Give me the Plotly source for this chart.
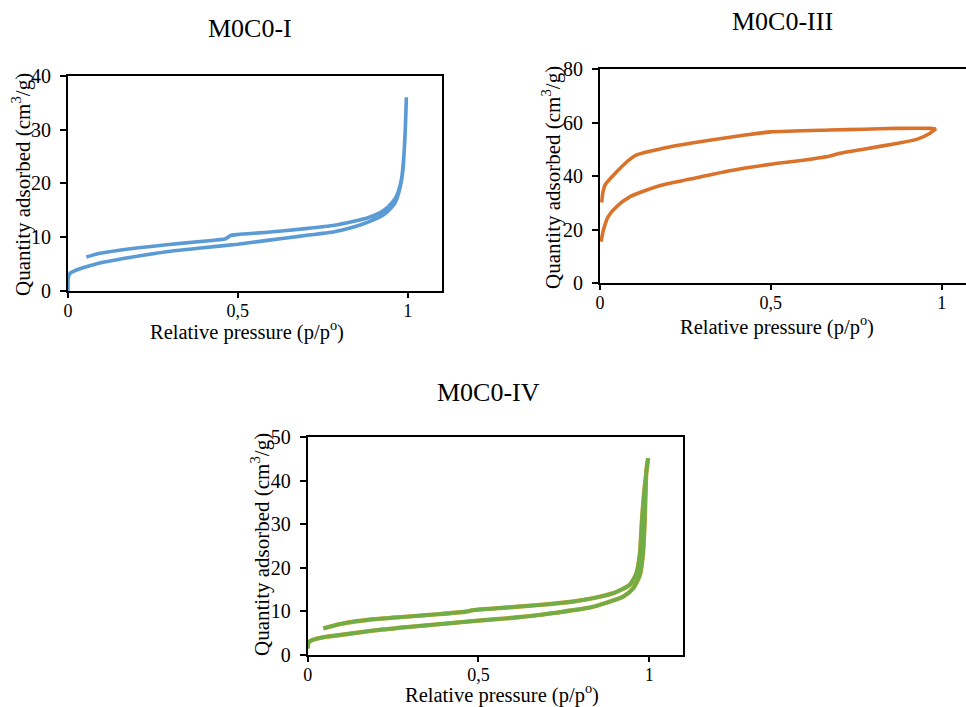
import plotly.graph_objects as go

# ---- Data: N2 adsorption / desorption isotherms ----
# M0C0-I
i_ads_p = [0, 0.001, 0.006, 0.025, 0.054, 0.094, 0.19, 0.29, 0.39, 0.5, 0.587, 0.685, 0.784, 0.83, 0.883, 0.932, 0.962, 0.976, 0.986, 0.993, 0.996]
i_ads_q = [0, 2.5, 3.3, 3.9, 4.5, 5.2, 6.3, 7.3, 8.0, 8.7, 9.4, 10.2, 11.0, 11.7, 12.8, 14.3, 16.3, 18.8, 22.5, 30.5, 36.0]
i_des_p = [0.996, 0.991, 0.981, 0.966, 0.955, 0.93, 0.883, 0.784, 0.685, 0.587, 0.5, 0.478, 0.464, 0.39, 0.29, 0.19, 0.094, 0.054]
i_des_q = [36.0, 27.4, 20.6, 17.5, 16.5, 15.0, 13.6, 12.2, 11.5, 10.9, 10.5, 10.3, 9.7, 9.2, 8.6, 7.9, 7.0, 6.3]

# M0C0-III
iii_ads_p = [0.003, 0.01, 0.024, 0.049, 0.088, 0.137, 0.185, 0.283, 0.38, 0.5, 0.576, 0.673, 0.702, 0.771, 0.868, 0.927, 0.966, 0.983]
iii_ads_q = [15.6, 19.9, 24.9, 28.7, 32.4, 34.9, 36.8, 39.5, 42.1, 44.5, 45.7, 47.6, 48.6, 50.1, 52.3, 53.8, 56.1, 57.7]
iii_des_p = [0.983, 0.966, 0.868, 0.771, 0.673, 0.5, 0.43, 0.38, 0.283, 0.185, 0.107, 0.088, 0.049, 0.015, 0.008, 0.005]
iii_des_q = [57.7, 57.9, 57.9, 57.6, 57.3, 56.6, 55.5, 54.6, 52.7, 50.5, 48.0, 46.4, 41.7, 36.8, 33.6, 30.2]

# M0C0-IV
iv_ads_p = [0, 0.002, 0.012, 0.056, 0.095, 0.19, 0.29, 0.387, 0.5, 0.58, 0.68, 0.778, 0.826, 0.875, 0.924, 0.953, 0.973, 0.982, 0.987, 0.992, 0.997]
iv_ads_q = [1.5, 2.8, 3.4, 4.2, 4.6, 5.6, 6.4, 7.1, 7.9, 8.4, 9.2, 10.3, 10.9, 12.0, 13.4, 15.3, 18.4, 23.4, 31.0, 42.5, 45.2]
iv_des_p = [0.997, 0.987, 0.979, 0.973, 0.963, 0.943, 0.895, 0.826, 0.778, 0.68, 0.582, 0.485, 0.465, 0.387, 0.29, 0.19, 0.095, 0.046]
iv_des_q = [45.2, 38.7, 31.0, 23.4, 18.8, 16.1, 14.2, 12.9, 12.3, 11.5, 10.9, 10.3, 10.0, 9.4, 8.8, 8.2, 7.1, 6.1]

x_tick_vals = [0, 0.5, 1]
x_tick_text = ["0", "0,5", "1"]

W, H = 966, 707
FONT = "Liberation Serif, Times New Roman, serif"


def dx(px):
    return px / W


def dy(py):
    return 1 - py / H


fig = go.Figure()

LINE = dict(width=3.6, shape="spline", smoothing=0.6)

# M0C0-I (blue)
fig.add_trace(go.Scatter(x=i_ads_p + i_des_p, y=i_ads_q + i_des_q, mode="lines",
                         line=dict(color="#5B9BD5", **LINE), xaxis="x", yaxis="y"))
# M0C0-III (orange)
fig.add_trace(go.Scatter(x=iii_ads_p + iii_des_p, y=iii_ads_q + iii_des_q, mode="lines",
                         line=dict(color="#D9722B", **LINE), xaxis="x2", yaxis="y2"))
# M0C0-IV (green over a thin gold underlay)
fig.add_trace(go.Scatter(x=iv_ads_p + iv_des_p, y=iv_ads_q + iv_des_q, mode="lines",
                         line=dict(color="#C8A030", width=4.4, shape="spline", smoothing=0.6),
                         xaxis="x3", yaxis="y3"))
fig.add_trace(go.Scatter(x=iv_ads_p + iv_des_p, y=iv_ads_q + iv_des_q, mode="lines",
                         line=dict(color="#70AD47", **LINE), xaxis="x3", yaxis="y3"))


def xax(domain, rng, anchor, mirror=True):
    return dict(domain=domain, range=rng, anchor=anchor, tickvals=x_tick_vals, ticktext=x_tick_text,
                showline=True, linecolor="black", linewidth=2, mirror=mirror,
                ticks="outside", ticklen=5, tickwidth=1.5, tickcolor="black",
                ticklabelstandoff=-3, automargin=False,
                showgrid=False, zeroline=False, tickfont=dict(family=FONT, size=18, color="black"))


def yax(domain, rng, dtick, anchor, mirror=True):
    return dict(domain=domain, range=rng, anchor=anchor, dtick=dtick, tick0=0,
                showline=True, linecolor="black", linewidth=2, mirror=mirror,
                ticks="outside", ticklen=6, tickwidth=1.5, tickcolor="black",
                ticklabelstandoff=5, automargin=False,
                showgrid=False, zeroline=False, tickfont=dict(family=FONT, size=20, color="black"))


fig.update_layout(
    width=W, height=H,
    margin=dict(l=0, r=0, t=0, b=0, autoexpand=False),
    paper_bgcolor="white", plot_bgcolor="white",
    showlegend=False,
    font=dict(family=FONT, color="black"),
    xaxis=xax([dx(68), dx(441.7)], [0, 1.1], "y"),
    yaxis=yax([dy(291), dy(75.7)], [0, 40], 10, "x"),
    xaxis2=xax([dx(600), 1.0], [0, (W - 600) / 341.7], "y2"),
    yaxis2=yax([dy(283.3), dy(69.3)], [0, 80], 20, "x2", mirror=False),
    xaxis3=xax([dx(307.7), dx(683.3)], [0, 1.1], "y3"),
    yaxis3=yax([dy(655), dy(437.3)], [0, 50], 10, "x3"),
)

titles = [("M0C0-I", 250, 28), ("M0C0-III", 782, 22), ("M0C0-IV", 488, 392)]
for text, px, py in titles:
    fig.add_annotation(text=text, x=dx(px), y=dy(py), xref="paper", yref="paper",
                       showarrow=False, font=dict(family=FONT, size=26, color="black"),
                       xanchor="center", yanchor="middle")

x_titles = [(247, 330), (777, 325), (502, 693)]
for px, py in x_titles:
    fig.add_annotation(text="Relative pressure (p/p<sup>o</sup>)", x=dx(px), y=dy(py),
                       xref="paper", yref="paper", showarrow=False,
                       font=dict(family=FONT, size=20.5, color="black"),
                       xanchor="center", yanchor="middle")

y_titles = [(21, 185), (551, 178), (260, 545)]
for px, py in y_titles:
    fig.add_annotation(text="Quantity adsorbed (cm<sup>3</sup>/g)", x=dx(px), y=dy(py),
                       xref="paper", yref="paper", showarrow=False, textangle=-90,
                       font=dict(family=FONT, size=21, color="black"),
                       xanchor="center", yanchor="middle")

fig.write_html("out.html")
